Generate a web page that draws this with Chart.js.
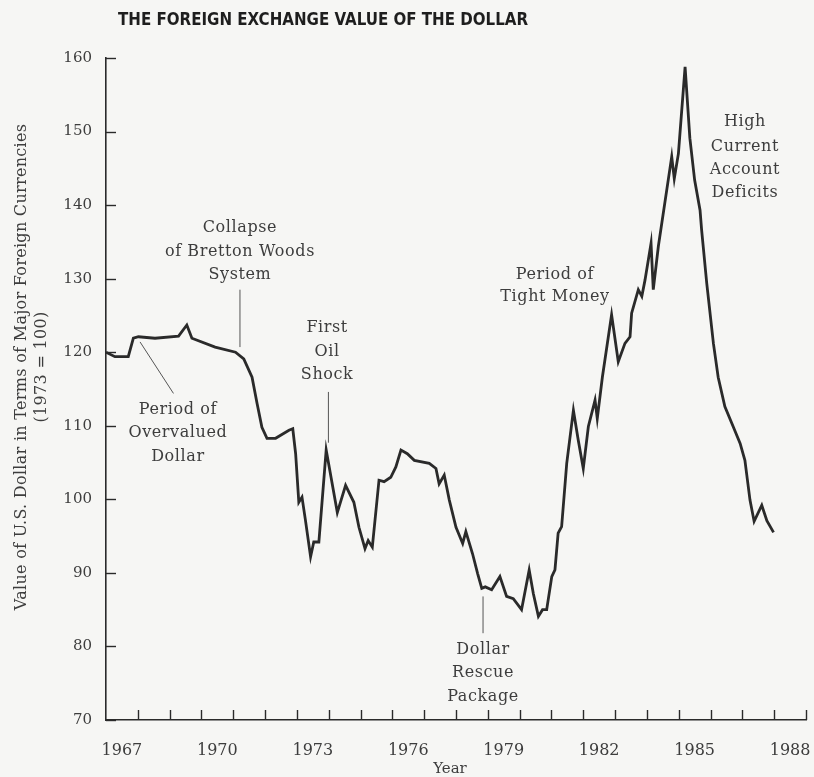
<!DOCTYPE html>
<html>
<head>
<meta charset="utf-8">
<script src="https://cdn.jsdelivr.net/npm/chart.js@4.4.1/dist/chart.umd.min.js"></script>
<style>
  html, body { margin: 0; padding: 0; background: #f6f6f4; }
  canvas { display: block; }
</style>
</head>
<body>
<canvas id="chart" width="814" height="777"></canvas>
<script>
// decimal year -> index value (1973 = 100)
const years = [
  1967.00, 1967.28, 1967.70, 1967.86, 1968.02, 1968.54, 1969.28, 1969.54, 1969.70, 1970.43,
  1971.07, 1971.33, 1971.59, 1971.75, 1971.90, 1972.06, 1972.33, 1972.75, 1972.87, 1972.96,
  1973.06, 1973.16, 1973.27, 1973.43, 1973.53, 1973.69, 1973.92, 1974.27, 1974.53, 1974.79,
  1974.95, 1975.14, 1975.24, 1975.37, 1975.58, 1975.74, 1975.95, 1976.11, 1976.27, 1976.47,
  1976.69, 1977.16, 1977.37, 1977.47, 1977.63, 1977.79, 1978.00, 1978.21, 1978.31, 1978.52,
  1978.68, 1978.81, 1978.92, 1979.12, 1979.38, 1979.59, 1979.80, 1980.06, 1980.30, 1980.43,
  1980.59, 1980.72, 1980.85, 1981.01, 1981.11, 1981.21, 1981.32, 1981.48, 1981.69, 1981.84,
  1982.00, 1982.16, 1982.37, 1982.44, 1982.60, 1982.89, 1983.10, 1983.31, 1983.47, 1983.52,
  1983.73, 1983.84, 1983.94, 1984.13, 1984.20, 1984.36, 1984.78, 1984.86, 1984.99, 1985.20,
  1985.35, 1985.50, 1985.67, 1985.72, 1985.88, 1986.09, 1986.24, 1986.45, 1986.72, 1986.93,
  1987.08, 1987.24, 1987.37, 1987.61, 1987.77, 1987.98,
];
const values = [
  120.0, 119.4, 119.4, 121.9, 122.1, 121.9, 122.2, 123.7, 121.9, 120.7,
  120.0, 119.1, 116.6, 113.0, 109.8, 108.3, 108.3, 109.4, 109.6, 106.2,
  99.6, 100.3, 97.1, 92.2, 94.2, 94.2, 106.7, 98.2, 101.9, 99.6,
  96.2, 93.3, 94.4, 93.5, 102.6, 102.4, 103.0, 104.4, 106.7, 106.2,
  105.3, 104.9, 104.2, 102.1, 103.3, 99.9, 96.2, 94.0, 95.6, 92.6,
  89.9, 87.9, 88.1, 87.7, 89.5, 86.8, 86.5, 85.0, 90.4, 87.2,
  84.1, 85.0, 85.0, 89.5, 90.4, 95.4, 96.3, 104.9, 112.1, 108.1,
  104.2, 109.9, 113.5, 111.0, 116.6, 125.1, 118.7, 121.2, 122.1, 125.3,
  128.5, 127.6, 129.8, 134.8, 128.5, 134.4, 146.6, 143.6, 147.0, 158.8,
  149.1, 143.4, 139.3, 136.6, 129.4, 121.2, 116.6, 112.6, 109.8, 107.6,
  105.3, 99.9, 97.0, 99.2, 97.1, 95.5,
];

const yearLabels = [1967, 1970, 1973, 1976, 1979, 1982, 1985, 1988];
const yTickValues = [70, 80, 90, 100, 110, 120, 130, 140, 150, 160];

const INK = "#2a2a2a";
const TEXT = "#3d3d3d";
const SERIF = "'DejaVu Serif', 'Liberation Serif', serif";

// text notes placed in data coordinates: lines + optional leader line
const notes = [
  { x: 1971.21, ys: [136.9, 133.7, 130.5], lines: ["Collapse", "of Bretton Woods", "System"],
    leader: [[1971.21, 128.5], [1971.21, 120.7]] },
  { x: 1973.95, ys: [123.3, 120.1, 116.9], lines: ["First", "Oil", "Shock"],
    leader: [[1973.99, 114.6], [1973.99, 107.7]] },
  { x: 1969.26, ys: [112.1, 109.0, 105.8], lines: ["Period of", "Overvalued", "Dollar"],
    leader: [[1968.07, 121.4], [1969.12, 114.4]] },
  { x: 1978.85, ys: [79.5, 76.4, 73.2], lines: ["Dollar", "Rescue", "Package"],
    leader: [[1978.85, 86.8], [1978.85, 81.8]] },
  { x: 1981.11, ys: [130.5, 127.5], lines: ["Period of", "Tight Money"] },
  { x: 1987.08, ys: [151.3, 147.9, 144.8, 141.6], lines: ["High", "Current", "Account", "Deficits"] },
];

const decor = {
  id: "decor",
  afterDraw(chart) {
    const { ctx, chartArea: a, scales: { x, y } } = chart;
    ctx.save();
    ctx.strokeStyle = INK;
    ctx.lineWidth = 1.4;
    // inward tick marks
    yTickValues.forEach((v) => {
      const py = Math.round(y.getPixelForValue(v)) + 0.5;
      ctx.beginPath();
      ctx.moveTo(a.left, py);
      ctx.lineTo(a.left + 10, py);
      ctx.stroke();
    });
    for (let yr = 1968; yr <= 1989; yr++) {
      const px = Math.round(x.getPixelForValue(yr)) + 0.5;
      ctx.beginPath();
      ctx.moveTo(px, a.bottom);
      ctx.lineTo(px, a.bottom - 10);
      ctx.stroke();
    }

    // notes
    ctx.fillStyle = TEXT;
    ctx.font = "16px " + SERIF;
    ctx.letterSpacing = "0.6px";
    ctx.textAlign = "center";
    ctx.textBaseline = "middle";
    ctx.lineWidth = 1;
    ctx.strokeStyle = "#555";
    notes.forEach((n) => {
      n.lines.forEach((t, i) => {
        ctx.fillText(t, x.getPixelForValue(n.x), y.getPixelForValue(n.ys[i]));
      });
      if (n.leader) {
        ctx.beginPath();
        ctx.moveTo(x.getPixelForValue(n.leader[0][0]), y.getPixelForValue(n.leader[0][1]));
        ctx.lineTo(x.getPixelForValue(n.leader[1][0]), y.getPixelForValue(n.leader[1][1]));
        ctx.stroke();
      }
    });

    // chart title
    ctx.letterSpacing = "0px";
    ctx.fillStyle = "#1e1e1e";
    ctx.textAlign = "left";
    ctx.font = "bold 17px 'DejaVu Sans Condensed', 'Liberation Sans Narrow', 'DejaVu Sans', sans-serif";
    ctx.fillText("THE FOREIGN EXCHANGE VALUE OF THE DOLLAR", 118, 21, 410);

    // axis titles
    ctx.fillStyle = TEXT;
    ctx.textAlign = "center";
    ctx.font = "15px " + SERIF;
    ctx.fillText("Year", (a.left + a.right) / 2 - 6, 769);
    ctx.font = "16px " + SERIF;
    ctx.letterSpacing = "0.3px";
    ctx.translate(0, 367);
    ctx.rotate(-Math.PI / 2);
    ctx.fillText("Value of U.S. Dollar in Terms of Major Foreign Currencies", 0, 22, 492);
    ctx.fillText("(1973 = 100)", 0, 42);
    ctx.restore();
  },
};

new Chart(document.getElementById("chart"), {
  type: "line",
  data: {
    datasets: [{
      data: years.map((yr, i) => ({ x: yr, y: values[i] })),
      borderColor: INK,
      borderWidth: 2.8,
      pointRadius: 0,
      tension: 0,
      fill: false,
    }],
  },
  options: {
    responsive: false,
    animation: false,
    layout: { padding: { top: 58, right: 8, left: 0, bottom: 0 } },
    plugins: { legend: { display: false }, tooltip: { enabled: false } },
    scales: {
      x: {
        type: "linear",
        min: 1967,
        max: 1989,
        afterFit: (s) => { s.height = 57; s.paddingLeft = 0; s.paddingRight = 0; },
        afterBuildTicks: (s) => { s.ticks = yearLabels.map((v) => ({ value: v + 0.5 })); },
        ticks: {
          callback: (v) => String(Math.floor(v)),
          color: TEXT,
          font: { family: SERIF, size: 16 },
          padding: 13,
          maxRotation: 0,
          autoSkip: false,
        },
        grid: { display: false },
        border: { display: true, color: INK, width: 1.6 },
      },
      y: {
        min: 70,
        max: 160,
        afterFit: (s) => { s.width = 106; s.paddingTop = 0; s.paddingBottom = 0; },
        ticks: {
          stepSize: 10,
          color: TEXT,
          font: { family: SERIF, size: 15 },
          padding: 6,
        },
        grid: { display: false },
        border: { display: true, color: INK, width: 1.6 },
      },
    },
  },
  plugins: [decor],
});
</script>
</body>
</html>
